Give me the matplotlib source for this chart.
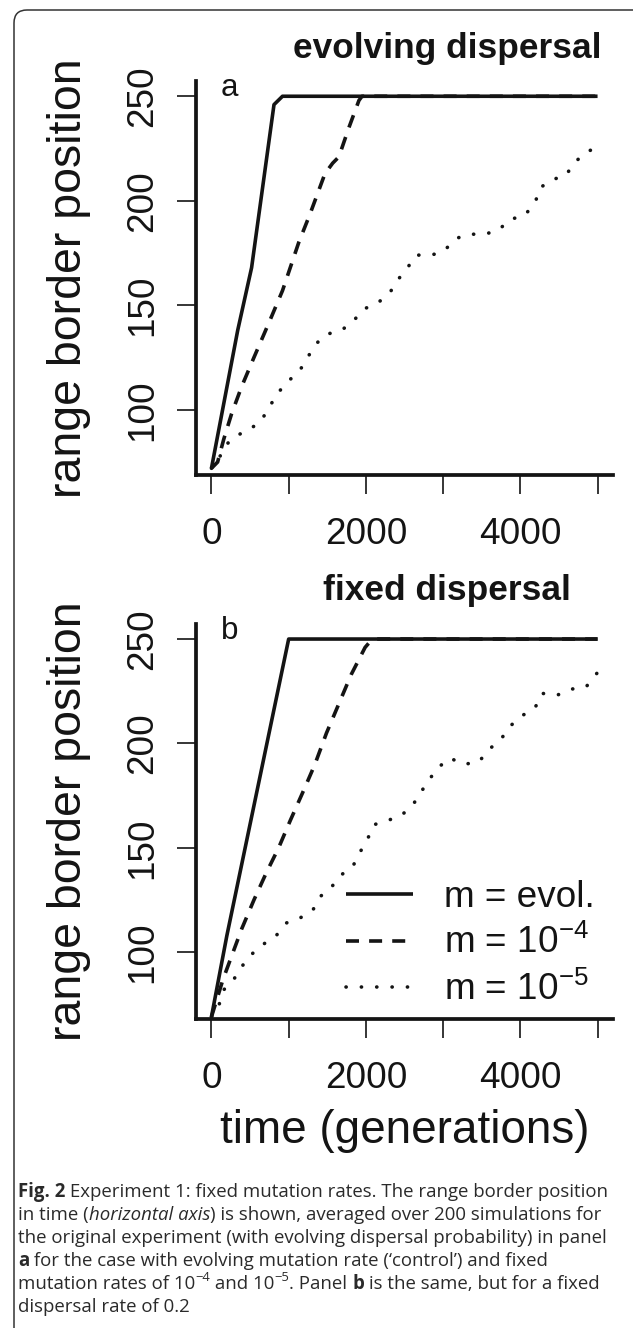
import matplotlib
matplotlib.use("Agg")
import matplotlib.pyplot as plt
from matplotlib.patches import FancyBboxPatch

plt.rcParams['font.family'] = ['Liberation Sans', 'DejaVu Sans']
plt.rcParams['mathtext.fontset'] = 'custom'
plt.rcParams['mathtext.rm'] = 'Liberation Sans'
plt.rcParams['mathtext.it'] = 'Liberation Sans:italic'
plt.rcParams['mathtext.bf'] = 'Liberation Sans:bold'

# panel a: evolving dispersal (time in generations, range border position)
a_evol_t = [0, 340, 520, 810, 920, 5000]
a_evol_y = [72, 138, 168, 246, 250, 250]
a_m4_t = [0, 80, 160, 260, 390, 550, 760, 920, 1130, 1280, 1470, 1570, 1650, 1780, 1910, 1950, 5000]
a_m4_y = [72, 75, 86, 98, 111, 125, 143, 157, 180, 194, 213, 218, 221, 235, 248, 250, 250]
a_m5_t = [0, 80, 160, 290, 460, 630, 730, 840, 970, 1130, 1230, 1340, 1480, 1680, 1830, 1960,
          2150, 2310, 2410, 2540, 2650, 2850, 3010, 3170, 3340, 3540, 3720, 3860, 4060, 4200,
          4250, 4400, 4590, 4690, 4850, 5000]
a_m5_y = [72, 75, 82, 87, 90, 94, 100, 107, 113, 118, 124, 131, 136, 138, 142, 148,
          151, 156, 162, 168, 174, 174, 176, 182, 184, 184, 186, 191, 193, 200,
          206, 210, 212, 218, 223, 226]

# panel b: fixed dispersal
b_evol_t = [0, 200, 1000, 5000]
b_evol_y = [69, 108, 250, 250]
b_m4_t = [0, 150, 390, 550, 710, 870, 1020, 1200, 1340, 1490, 1650, 1810, 1990, 2060, 2120, 5000]
b_m4_y = [69, 87, 111, 125, 138, 150, 163, 178, 190, 205, 219, 233, 246, 249, 250, 250]
b_m5_t = [0, 100, 160, 290, 390, 520, 680, 840, 970, 1130, 1310, 1420, 1550, 1680, 1830, 1910,
          2020, 2100, 2270, 2440, 2600, 2700, 2810, 2920, 3090, 3260, 3460, 3590, 3750, 3860,
          4010, 4190, 4280, 4470, 4660, 4850, 5000]
b_m5_y = [69, 75, 82, 87, 93, 99, 104, 108, 114, 116, 120, 127, 131, 137, 141, 147,
          154, 161, 163, 165, 170, 176, 182, 188, 193, 190, 191, 197, 202, 208,
          213, 217, 224, 223, 226, 227, 234]

x_ticks = [0, 1000, 2000, 3000, 4000, 5000]
x_ticklabels = ['0', '', '2000', '', '4000', '']
y_ticks = [100, 150, 200, 250]
legend_labels = ['m = evol.', r'm = $10^{-4}$', r'm = $10^{-5}$']

W, H = 633, 1328
INK = '#141414'
LW = 2.6

fig = plt.figure(figsize=(W / 100, H / 100), dpi=100)


def px_axes(l, t, r, b):
    return fig.add_axes([l / W, 1 - b / H, (r - l) / W, (b - t) / H])


def draw_panel(ax, t1, y1, t2, y2, t3, y3, ylim, letter):
    h1, = ax.plot(t1, y1, color=INK, lw=LW, solid_capstyle='butt')
    h2, = ax.plot(t2, y2, color=INK, lw=LW, ls=(0, (3.6, 2.8)), dash_capstyle='butt')
    h3, = ax.plot(t3, y3, color=INK, lw=LW, ls=(0, (0.05, 4.2)), dash_capstyle='round')
    ax.set_xlim(-200, 5200)
    ax.set_ylim(*ylim)
    for s in ['top', 'right']:
        ax.spines[s].set_visible(False)
    for s in ['left', 'bottom']:
        ax.spines[s].set_linewidth(2.7)
        ax.spines[s].set_color(INK)
    ax.set_xticks(x_ticks)
    ax.set_xticklabels(x_ticklabels)
    ax.set_yticks(y_ticks)
    ax.tick_params(direction='out', length=14, width=1.2, color=INK,
                   labelsize=26.6, labelcolor=INK)
    ax.tick_params(axis='x', pad=16)
    ax.tick_params(axis='y', pad=12, labelrotation=90)
    for lbl in ax.get_yticklabels():
        lbl.set_va('center')
    ax.set_ylabel('range border position', fontsize=33.5, color=INK)
    ax.yaxis.set_label_coords(-0.252, 0.5)
    ax.text(117, 250, letter, fontsize=22.5, color=INK, ha='left', va='baseline')
    return [h1, h2, h3]


ax_a = px_axes(196, 81, 613, 475)
draw_panel(ax_a, a_evol_t, a_evol_y, a_m4_t, a_m4_y, a_m5_t, a_m5_y, (68.8, 257.3), 'a')

ax_b = px_axes(196, 624, 613, 1019)
handles = draw_panel(ax_b, b_evol_t, b_evol_y, b_m4_t, b_m4_y, b_m5_t, b_m5_y, (68.0, 257.2), 'b')
ax_b.set_xlabel('time (generations)', fontsize=33, color=INK)
ax_b.xaxis.set_label_coords(0.5, -0.2266)
ax_b.legend(handles, legend_labels, loc='center right', bbox_to_anchor=(0.957, 0.19),
            frameon=False, fontsize=26.6, handlelength=1.8, handletextpad=0.85,
            labelspacing=0.28, borderpad=0, borderaxespad=0, labelcolor=INK)

fig.text(447 / W, 1 - 58 / H, 'evolving dispersal', ha='center', va='baseline',
         fontsize=25.4, fontweight='bold', color=INK)
fig.text(447 / W, 1 - 600 / H, 'fixed dispersal', ha='center', va='baseline',
         fontsize=25.4, fontweight='bold', color=INK)

# rounded frame round the figure, cut by the right and bottom edges
fig.add_artist(FancyBboxPatch((0.14, -1.0), 7.0, 13.18 + 1.0,
                              boxstyle='round,pad=0,rounding_size=0.13',
                              transform=fig.dpi_scale_trans, fill=False,
                              lw=1.1, ec='#333333'))

# caption
cap = fig.add_axes([0, 0, 1, 1], zorder=5)
cap.set_xlim(0, W)
cap.set_ylim(H, 0)
cap.axis('off')
CAP_FS = 13.4
CAP_COL = '#2a2a2a'
CAP_FONT = ['Open Sans', 'DejaVu Sans']

caption = [
    [('Fig. 2', 'b'), (' Experiment 1: fixed mutation rates. The range border position', '')],
    [('in time (', ''), ('horizontal axis', 'i'), (') is shown, averaged over 200 simulations for', '')],
    [('the original experiment (with evolving dispersal probability) in panel', '')],
    [('a', 'b'), (' for the case with evolving mutation rate (\u2018control\u2019) and fixed', '')],
    [('mutation rates of 10', ''), ('\u22124', 'sup'), (' and 10', ''), ('\u22125', 'sup'),
     ('. Panel ', ''), ('b', 'b'), (' is the same, but for a fixed', '')],
    [('dispersal rate of 0.2', '')],
]

y0 = 1197
for i, pieces in enumerate(caption):
    y = y0 + 23 * i
    prev = None
    for s, kind in pieces:
        kw = dict(fontsize=CAP_FS, color=CAP_COL, family=CAP_FONT, ha='left', va='baseline')
        dy = 0
        if kind == 'b':
            kw['fontweight'] = 'bold'
        if kind == 'i':
            kw['style'] = 'italic'
        if kind == 'sup':
            kw['fontsize'] = CAP_FS * 0.7
            dy = 5.5
        if prev is None:
            prev = cap.text(18, y, s, **kw)
        else:
            prev = cap.annotate(s, xy=(1, y), xycoords=(prev, 'data'), xytext=(0, dy),
                                textcoords='offset points', **kw)

fig.savefig('out.png', dpi=100)
